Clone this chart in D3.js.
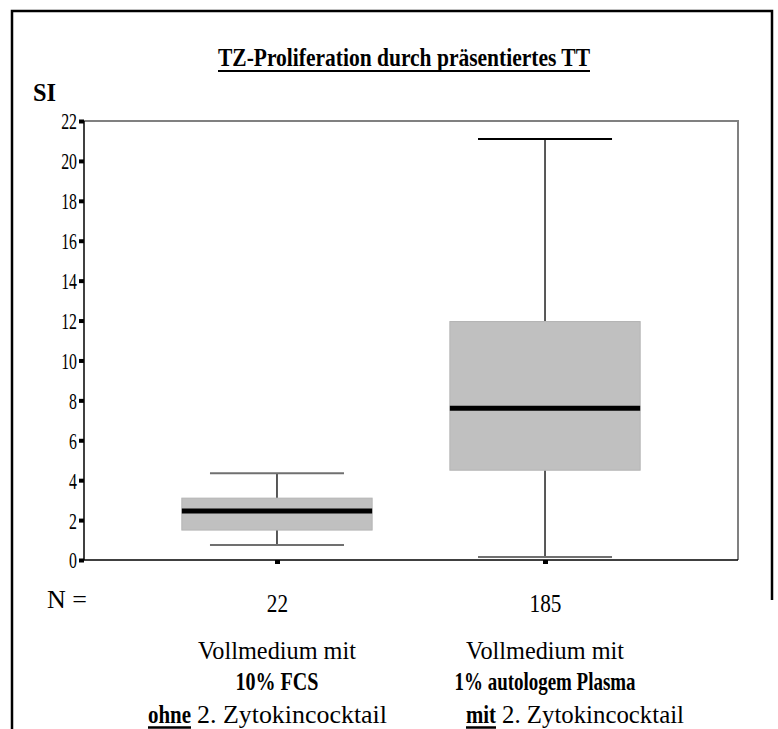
<!DOCTYPE html>
<html>
<head>
<meta charset="utf-8">
<script src="https://cdn.jsdelivr.net/npm/d3@7"></script>
<style>
  html, body { margin: 0; padding: 0; background: #fff; }
  svg text { font-family: 'Liberation Serif', serif; fill: #000; }
</style>
</head>
<body>
<svg id="chart" width="778" height="729"></svg>
<script>
// Groups and their sample sizes
const categories = ["FCS", "Plasma"];
const nCounts = [22, 185];

// Box-plot statistics for the stimulation index (SI)
const whiskerLow  = [0.75, 0.15];
const q1          = [1.5, 4.5];
const median      = [2.45, 7.6];
const q3          = [3.1, 11.95];
const whiskerHigh = [4.35, 21.1];

// Y-axis ticks
const yTicks = [0, 2, 4, 6, 8, 10, 12, 14, 16, 18, 20, 22];

const svg = d3.select("#chart");

const plot = { left: 84, right: 738, top: 121, bottom: 560 };

const y = d3.scaleLinear().domain([0, 22]).range([plot.bottom, plot.top]);
const x = d3.scalePoint().domain(categories).range([plot.left, plot.right]).padding(0.72);
const step = x.step();
const boxW = step * 0.71;
const capW = step * 0.5;

// Outer frame
svg.append("path")
  .attr("d", "M12,729 L12,11 L772,11 L772,600")
  .attr("fill", "none").attr("stroke", "#000").attr("stroke-width", 2.5);

// Title
svg.append("text")
  .attr("x", 404).attr("y", 66)
  .attr("text-anchor", "middle")
  .attr("font-size", 26).attr("font-weight", "bold")
  .attr("textLength", 372).attr("lengthAdjust", "spacingAndGlyphs")
  .text("TZ-Proliferation durch präsentiertes TT");
svg.append("line")
  .attr("x1", 218).attr("x2", 590).attr("y1", 71).attr("y2", 71)
  .attr("stroke", "#000").attr("stroke-width", 2);

// Y axis title
svg.append("text")
  .attr("x", 33).attr("y", 101)
  .attr("font-size", 26).attr("font-weight", "bold")
  .attr("textLength", 23).attr("lengthAdjust", "spacingAndGlyphs")
  .text("SI");

// Plot frame: top and right in grey
svg.append("path")
  .attr("d", `M${plot.left},${plot.top} L${plot.right},${plot.top} L${plot.right},${plot.bottom}`)
  .attr("fill", "none").attr("stroke", "#808080").attr("stroke-width", 2);

// Y axis
const yAxis = svg.append("g")
  .attr("transform", `translate(${plot.left},0)`)
  .call(d3.axisLeft(y).tickValues(yTicks).tickSizeInner(5).tickSizeOuter(0).tickPadding(2));
yAxis.select(".domain").remove();
yAxis.selectAll(".tick line").attr("stroke", "#000").attr("stroke-width", 4);
yAxis.selectAll(".tick text")
  .attr("font-size", 24)
  .attr("dy", "0.33em")
  .attr("transform", "translate(-7,0) scale(0.66,1) translate(7,0)");

// X axis with group sizes as tick labels
const xAxis = svg.append("g")
  .attr("transform", `translate(0,${plot.bottom})`)
  .call(d3.axisBottom(x).tickSizeInner(4).tickSizeOuter(0).tickPadding(48)
    .tickFormat(d => nCounts[categories.indexOf(d)]));
xAxis.select(".domain").remove();
xAxis.selectAll(".tick line").attr("stroke", "#000").attr("stroke-width", 5);
xAxis.selectAll(".tick text")
  .attr("font-size", 25)
  .attr("dy", "0")
  .attr("transform", "scale(0.85,1)");

// Axis lines
svg.append("line")
  .attr("x1", plot.left).attr("x2", plot.left).attr("y1", plot.top).attr("y2", plot.bottom)
  .attr("stroke", "#000").attr("stroke-width", 1.5);
svg.append("line")
  .attr("x1", plot.left).attr("x2", plot.right).attr("y1", plot.bottom).attr("y2", plot.bottom)
  .attr("stroke", "#000").attr("stroke-width", 1.5);

svg.append("text")
  .attr("x", 47).attr("y", 608)
  .attr("font-size", 25)
  .attr("textLength", 40).attr("lengthAdjust", "spacingAndGlyphs")
  .text("N =");

// Boxes
const boxes = svg.append("g");
categories.forEach((c, i) => {
  const cx = x(c);
  const g = boxes.append("g");
  // whisker stems
  g.append("line")
    .attr("x1", cx).attr("x2", cx)
    .attr("y1", y(whiskerHigh[i])).attr("y2", y(q3[i]))
    .attr("stroke", "#222").attr("stroke-width", 1.5);
  g.append("line")
    .attr("x1", cx).attr("x2", cx)
    .attr("y1", y(q1[i])).attr("y2", y(whiskerLow[i]))
    .attr("stroke", "#222").attr("stroke-width", 1.5);
  // caps
  g.append("line")
    .attr("x1", cx - capW / 2).attr("x2", cx + capW / 2)
    .attr("y1", y(whiskerHigh[i])).attr("y2", y(whiskerHigh[i]))
    .attr("stroke", i === 1 ? "#000" : "#707070").attr("stroke-width", 2);
  g.append("line")
    .attr("x1", cx - capW / 2).attr("x2", cx + capW / 2)
    .attr("y1", y(whiskerLow[i])).attr("y2", y(whiskerLow[i]))
    .attr("stroke", "#707070").attr("stroke-width", 2);
  // box
  g.append("rect")
    .attr("x", cx - boxW / 2).attr("width", boxW)
    .attr("y", y(q3[i])).attr("height", y(q1[i]) - y(q3[i]))
    .attr("fill", "#c0c0c0").attr("stroke", "#b4b4b4").attr("stroke-width", 1);
  // median
  g.append("line")
    .attr("x1", cx - boxW / 2).attr("x2", cx + boxW / 2)
    .attr("y1", y(median[i])).attr("y2", y(median[i]))
    .attr("stroke", "#000").attr("stroke-width", 5);
});

// Group descriptions
const descLine1 = ["Vollmedium mit", "Vollmedium mit"];
const descLine2 = ["10% FCS", "1% autologem Plasma"];
const line2Width = [83, 181];
categories.forEach((c, i) => {
  svg.append("text")
    .attr("x", x(c)).attr("y", 659).attr("text-anchor", "middle")
    .attr("font-size", 25)
    .attr("textLength", 158).attr("lengthAdjust", "spacingAndGlyphs")
    .text(descLine1[i]);
  svg.append("text")
    .attr("x", x(c)).attr("y", 690).attr("text-anchor", "middle")
    .attr("font-size", 25).attr("font-weight", "bold")
    .attr("textLength", line2Width[i]).attr("lengthAdjust", "spacingAndGlyphs")
    .text(descLine2[i]);
});

// Cytokine cocktail notes with underlined emphasis
const cocktailWord = ["ohne", "mit"];
const cocktailStart = [148, 466];
const wordWidth = [43, 30];
const restWidth = [190, 182];
cocktailWord.forEach((w, i) => {
  const x0 = cocktailStart[i];
  svg.append("text")
    .attr("x", x0).attr("y", 723)
    .attr("font-size", 25).attr("font-weight", "bold")
    .attr("textLength", wordWidth[i]).attr("lengthAdjust", "spacingAndGlyphs")
    .text(w);
  svg.append("line")
    .attr("x1", x0).attr("x2", x0 + wordWidth[i]).attr("y1", 727.5).attr("y2", 727.5)
    .attr("stroke", "#000").attr("stroke-width", 2.5);
  svg.append("text")
    .attr("x", x0 + wordWidth[i] + 6).attr("y", 723)
    .attr("font-size", 25)
    .attr("textLength", restWidth[i]).attr("lengthAdjust", "spacingAndGlyphs")
    .text("2. Zytokincocktail");
});
</script>
</body>
</html>
